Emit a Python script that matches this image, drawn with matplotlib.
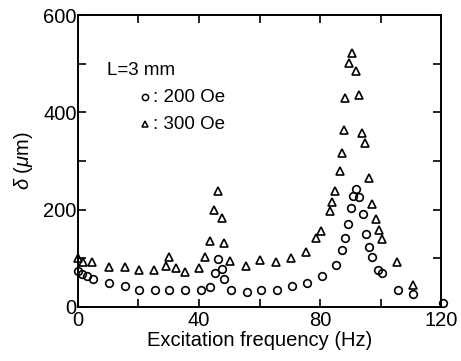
import numpy as np
import matplotlib.pyplot as plt
from matplotlib.ticker import MultipleLocator

plt.rcParams['font.family'] = ['Liberation Sans', 'DejaVu Sans']
plt.rcParams['mathtext.fontset'] = 'custom'
plt.rcParams['mathtext.rm'] = 'Liberation Sans'
plt.rcParams['mathtext.it'] = 'Liberation Sans:italic'

# 200 Oe (circles)
f_200 = [0.1, 1.2, 3.1, 5.1, 10.4, 15.5, 20.3, 25.5, 30.2, 35.5, 40.6, 43.6,
         45.3, 46.4, 47.5, 48.4, 50.6, 55.8, 60.5, 65.7, 70.6, 75.6, 80.5,
         85.3, 87.4, 88.3, 89.1, 90.1, 90.8, 91.9, 92.9, 94.3, 95.2, 96.3,
         97.3, 99.2, 100.5, 105.6, 110.6, 120.5]
d_200 = [73, 68, 64, 57, 50, 42, 35, 35, 35, 35, 35, 40,
         69, 98, 77, 57, 34, 30, 34, 34, 43, 49, 64,
         86, 117, 141, 171, 203, 229, 243, 225, 190, 150, 124,
         102, 76, 70, 35, 26, 7]

# 300 Oe (triangles)
f_300 = [0.1, 1.8, 4.7, 10.2, 15.5, 20.2, 25.3, 29.1, 30.2, 32.4, 35.5, 40.1,
         42.1, 43.5, 45.1, 46.3, 47.6, 48.3, 50.4, 55.5, 60.2, 65.5, 70.3,
         75.4, 78.6, 80.3, 83.3, 84.0, 85.0, 86.6, 87.3, 87.8, 88.3, 89.4,
         90.6, 91.7, 92.9, 93.9, 95.0, 96.3, 97.1, 98.5, 99.3, 100.4, 105.3,
         110.6]
d_300 = [100, 93, 92, 82, 82, 75, 75, 85, 102, 80, 71, 80,
         102, 136, 199, 239, 182, 131, 95, 83, 97, 92, 100,
         112, 141, 156, 198, 216, 239, 280, 317, 364, 429, 502,
         522, 486, 436, 357, 338, 266, 212, 180, 158, 139, 92,
         45]

fig = plt.figure(figsize=(4.61, 3.61), dpi=100)
ax = fig.add_axes([0.169, 0.150, 0.788, 0.808])

ax.plot(f_200, d_200, 'o', ms=5.5, mfc='none', mec='black', mew=1.2, clip_on=False)
ax.plot(f_300, d_300, '^', ms=5.5, mfc='none', mec='black', mew=1.2, clip_on=False)

ax.set_xlim(0, 120)
ax.set_ylim(0, 600)
ax.xaxis.set_major_locator(MultipleLocator(40))
ax.xaxis.set_minor_locator(MultipleLocator(20))
ax.yaxis.set_major_locator(MultipleLocator(200))
ax.yaxis.set_minor_locator(MultipleLocator(100))
ax.tick_params(which='both', direction='in', top=True, right=True,
               width=1.2, length=6, labelsize=14.5)
ax.tick_params(axis='x', pad=3)
ax.tick_params(axis='y', pad=1)
for s in ax.spines.values():
    s.set_linewidth(1.4)

ax.set_xlabel('Excitation frequency (Hz)', fontsize=14.5, labelpad=1)
ax.set_ylabel(r'$\delta$ ($\mu$m)', fontsize=14.5, labelpad=6)

ax.text(9.6, 487, 'L=3 mm', fontsize=13.5, va='center')
ax.plot([22.3], [431], 'o', ms=4.5, mfc='none', mec='black', mew=1.1)
ax.text(24.8, 431, ': 200 Oe', fontsize=13.5, va='center')
ax.plot([22.3], [376], '^', ms=4.5, mfc='none', mec='black', mew=1.1)
ax.text(24.8, 376, ': 300 Oe', fontsize=13.5, va='center')

fig.savefig('out.png', dpi=100)
